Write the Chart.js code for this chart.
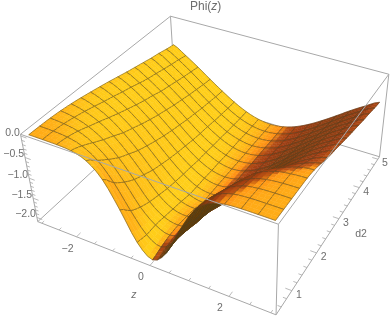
<!DOCTYPE html>
<html><head><meta charset="utf-8">
<style>html,body{margin:0;padding:0;background:#fff}canvas{display:block}</style>
<script src="https://cdn.jsdelivr.net/npm/chart.js"></script>
</head><body><canvas id="c" width="390" height="316"></canvas>
<script>
// ---- data ----
const zValues=[-3,-2.625,-2.25,-1.875,-1.5,-1.125,-0.75,-0.375,0,0.375,0.75,1.125,1.5,1.875,2.25,2.625,3];
const d2Values=[0.5,0.78,1.06,1.34,1.63,1.91,2.19,2.47,2.75,3.03,3.31,3.59,3.88,4.16,4.44,4.72,5];
const phiRows=[
[0,-.001,-.005,-.033,-.145,-.46,-1.06,-1.74,-2.05,-1.74,-1.06,-.46,-.145,-.033,-.005,-.001,0],
[-.002,-.009,-.038,-.13,-.35,-.76,-1.32,-1.80,-1.98,-1.70,-1.11,-.52,-.178,-.045,-.008,-.001,0],
[-.01,-.035,-.10,-.26,-.54,-.97,-1.47,-1.80,-1.93,-1.74,-1.24,-.66,-.275,-.089,-.022,-.004,-.001],
[-.029,-.079,-.19,-.39,-.71,-1.13,-1.57,-1.84,-1.92,-1.80,-1.36,-.81,-.39,-.155,-.05,-.013,-.003],
[-.059,-.136,-.28,-.51,-.84,-1.24,-1.64,-1.88,-1.94,-1.84,-1.45,-.95,-.52,-.24,-.094,-.031,-.008],
[-.098,-.20,-.37,-.63,-.96,-1.34,-1.70,-1.92,-1.98,-1.90,-1.61,-1.18,-.77,-.44,-.23,-.10,-.041],
[-.143,-.27,-.46,-.72,-1.05,-1.41,-1.74,-1.97,-2.05,-1.96,-1.71,-1.36,-.99,-.66,-.40,-.22,-.11],
[-.19,-.33,-.54,-.81,-1.13,-1.47,-1.77,-1.98,-2.05,-1.98,-1.77,-1.47,-1.13,-.81,-.54,-.33,-.19],
[-.24,-.40,-.62,-.89,-1.20,-1.52,-1.79,-1.98,-2.05,-1.98,-1.79,-1.52,-1.20,-.89,-.62,-.40,-.24],
[-.295,-.46,-.69,-.96,-1.26,-1.56,-1.82,-1.99,-2.05,-1.99,-1.82,-1.56,-1.26,-.96,-.69,-.46,-.295],
[-.35,-.53,-.75,-1.02,-1.31,-1.60,-1.83,-1.99,-2.05,-1.99,-1.83,-1.60,-1.31,-1.02,-.75,-.53,-.35],
[-.40,-.59,-.82,-1.08,-1.36,-1.63,-1.85,-2.00,-2.05,-2.00,-1.85,-1.63,-1.36,-1.08,-.82,-.59,-.40],
[-.45,-.64,-.87,-1.13,-1.40,-1.65,-1.86,-2.00,-2.05,-2.00,-1.86,-1.65,-1.40,-1.13,-.87,-.64,-.45],
[-.50,-.69,-.92,-1.18,-1.44,-1.68,-1.88,-2.00,-2.05,-2.00,-1.88,-1.68,-1.44,-1.18,-.92,-.69,-.50],
[-.54,-.74,-.97,-1.22,-1.47,-1.70,-1.89,-2.01,-2.05,-2.01,-1.89,-1.70,-1.47,-1.22,-.97,-.74,-.54],
[-.59,-.78,-1.01,-1.26,-1.50,-1.72,-1.90,-2.01,-2.05,-2.01,-1.90,-1.72,-1.50,-1.26,-1.01,-.78,-.59],
[-.63,-.83,-1.05,-1.29,-1.52,-1.73,-1.90,-2.01,-2.05,-2.01,-1.90,-1.73,-1.52,-1.29,-1.05,-.83,-.63]];
const zTicks=[-2,0,2];
const d2Ticks=[1,2,3,4,5];
const phiTicks=[0,-0.5,-1,-1.5,-2];
const zMinor=[-3,-2.5,-1.5,-1,-0.5,0.5,1,1.5,2.5,3];
const d2Minor=[0.6,0.8,1.2,1.4,1.6,1.8,2.2,2.4,2.6,2.8,3.2,3.4,3.6,3.8,4.2,4.4,4.6,4.8];
const phiMinor=[-0.1,-0.2,-0.3,-0.4,-0.6,-0.7,-0.8,-0.9,-1.1,-1.2,-1.3,-1.4,-1.6,-1.7,-1.8,-1.9];
const zRange=[-3.12,3.12], d2Range=[0.41,5.09], phiRange=[-2.11,0.04];
// ---- box calibration: unit-cube corner -> page position ----
const boxCorners=[[0,0,1,22,135],[1,0,1,280,224],[1,1,1,389,74],[0,1,1,168,16],
                  [0,0,0,36,221],[1,0,0,275,315],[1,1,0,379,157],[0,1,0,178,95]];
const GREY='#a8a8a8', TEXT='#6e6e6e';

function fitCamera(){
  const A=[],b=[];
  for(const [u,v,w,x,y] of boxCorners){
    A.push([u,v,w,1,0,0,0,0,-x*u,-x*v,-x*w]);b.push(x);
    A.push([0,0,0,0,u,v,w,1,-y*u,-y*v,-y*w]);b.push(y);
  }
  const n=11,M=[];
  for(let i=0;i<n;i++){M.push([]);for(let j=0;j<=n;j++){let s=0;for(let k=0;k<A.length;k++)s+=A[k][i]*(j<n?A[k][j]:b[k]);M[i].push(s);}}
  for(let i=0;i<n;i++){
    let p=i;for(let r=i+1;r<n;r++)if(Math.abs(M[r][i])>Math.abs(M[p][i]))p=r;
    [M[i],M[p]]=[M[p],M[i]];
    for(let r=0;r<n;r++)if(r!==i){const f=M[r][i]/M[i][i];for(let c=i;c<=n;c++)M[r][c]-=f*M[i][c];}
  }
  return M.map((r,i)=>r[n]/r[i]);
}
const P=fitCamera();
function cube(u,v,w){const d=P[8]*u+P[9]*v+P[10]*w+1;
  return {x:(P[0]*u+P[1]*v+P[2]*w+P[3])/d,y:(P[4]*u+P[5]*v+P[6]*w+P[7])/d};}
const U=z=>(z-zRange[0])/(zRange[1]-zRange[0]),
      V=d=>(d-d2Range[0])/(d2Range[1]-d2Range[0]),
      W=p=>(p-phiRange[0])/(phiRange[1]-phiRange[0]);
const project=(z,d,p)=>cube(U(z),V(d),W(p));

// Catmull-Rom evaluation used only to round the drawn sheet between the read values
function cr(a,b,c,d,t){return 0.5*(2*b+(c-a)*t+(2*a-5*b+4*c-d)*t*t+(3*b-a-3*c+d)*t*t*t);}
function sheetPhi(fi,fj){
  const N=zValues.length-1,M=d2Values.length-1;
  const i=Math.min(Math.floor(fi),N-1),j=Math.min(Math.floor(fj),M-1),s=fi-i,t=fj-j;
  const row=r=>{r=Math.max(0,Math.min(M,r));const R=phiRows[r],g=k=>R[Math.max(0,Math.min(N,k))];
    return cr(g(i-1),g(i),g(i+1),g(i+2),s);};
  return cr(row(j-1),row(j),row(j+1),row(j+2),t);
}
const norm=a=>{const l=Math.hypot(...a);return a.map(x=>x/l);};
const dot=(a,b)=>a[0]*b[0]+a[1]*b[1]+a[2]*b[2];
const camR=norm([2.4,1.3,0]),camV=norm([1.3,-2.4,2]),
      camU=[camV[1]*camR[2]-camV[2]*camR[1],camV[2]*camR[0]-camV[0]*camR[2],camV[0]*camR[1]-camV[1]*camR[0]];
const L1=norm([1.5,-0.5,2]),L2=norm([1.5,1.5,2]);
function shade(n){
  if(n[2]<0)n=n.map(x=>-x);
  const nv=[dot(n,camR),dot(n,camU),dot(n,camV)];
  const dR=Math.max(0,dot(nv,L1)),dG=Math.max(0,dot(nv,L2));
  const c=x=>Math.round(255*Math.min(1,x));
  const f=Math.min(1,.62+4*dR);
  return `rgb(${c(.36+2.2*dR+.6*dG)},${c(Math.max(.24,(.05+.76*dG)*f))},${c(.05+.05*dG)})`;
}
class SurfaceController extends Chart.ScatterController{
  draw(){
    const ctx=this.chart.ctx,sx=this.getScaleForId(this.getMeta().xAxisID),sy=this.getScaleForId(this.getMeta().yAxisID);
    const N=zValues.length-1,M=d2Values.length-1,S=3,q=[];
    const lerp=(arr,f)=>{const i=Math.min(Math.floor(f),arr.length-2);return arr[i]+(arr[i+1]-arr[i])*(f-i);};
    const pt=(a,b)=>{const fi=a/S,fj=b/S,z=lerp(zValues,fi),d=lerp(d2Values,fj),p=sheetPhi(fi,fj),
        s=project(z,d,p);
        return {w:[U(z),V(d),0.4*W(p)],px:sx.getPixelForValue(s.x),py:sy.getPixelForValue(s.y)};};
    const G=[];for(let a=0;a<=N*S;a++){G.push([]);for(let b=0;b<=M*S;b++)G[a].push(pt(a,b));}
    for(let a=0;a<N*S;a++)for(let b=0;b<M*S;b++){
      const A=G[a][b],B=G[a+1][b],C=G[a+1][b+1],D=G[a][b+1];
      const e1=[C.w[0]-A.w[0],C.w[1]-A.w[1],C.w[2]-A.w[2]],e2=[D.w[0]-B.w[0],D.w[1]-B.w[1],D.w[2]-B.w[2]];
      const n=norm([e1[1]*e2[2]-e1[2]*e2[1],e1[2]*e2[0]-e1[0]*e2[2],e1[0]*e2[1]-e1[1]*e2[0]]);
      const c=[(A.w[0]+C.w[0])/2,(A.w[1]+C.w[1])/2,(A.w[2]+C.w[2])/2];
      q.push({A,B,C,D,a,b,col:shade(n),depth:dot(c,camV)});
    }
    q.sort((x,y)=>x.depth-y.depth);
    ctx.save();ctx.lineJoin='round';
    for(const k of q){
      ctx.beginPath();ctx.moveTo(k.A.px,k.A.py);ctx.lineTo(k.B.px,k.B.py);ctx.lineTo(k.C.px,k.C.py);ctx.lineTo(k.D.px,k.D.py);ctx.closePath();
      ctx.fillStyle=k.col;ctx.strokeStyle=k.col;ctx.lineWidth=.5;ctx.fill();ctx.stroke();
      ctx.strokeStyle='rgba(80,65,35,.72)';ctx.lineWidth=.7;
      const seg=(p,r)=>{ctx.beginPath();ctx.moveTo(p.px,p.py);ctx.lineTo(r.px,r.py);ctx.stroke();};
      if(k.a%S===0)seg(k.A,k.D);
      if((k.a+1)%S===0)seg(k.B,k.C);
      if(k.b%S===0)seg(k.A,k.B);
      if((k.b+1)%S===0)seg(k.D,k.C);
    }
    ctx.restore();
  }
}
SurfaceController.id='surface';
SurfaceController.defaults=Chart.ScatterController.defaults;
Chart.register(SurfaceController);

const BREAK={x:NaN,y:NaN};
const edge=(a,b)=>[cube(...a),cube(...b),BREAK];
const backEdges=[...edge([0,0,1],[0,1,1]),...edge([0,1,1],[1,1,1]),...edge([0,1,1],[0,1,0]),
  ...edge([0,0,0],[0,1,0]),...edge([0,1,0],[1,1,0]),...edge([1,1,0],[1,1,1])];
const frontEdges=[...edge([0,0,1],[1,0,1]),...edge([1,0,1],[1,1,1]),...edge([1,0,1],[1,0,0]),
  ...edge([0,0,1],[0,0,0]),...edge([0,0,0],[1,0,0]),...edge([1,0,0],[1,1,0])];
const tick=(a,b)=>[project(...a),project(...b),BREAK];
const zSpan=zRange[1]-zRange[0],dSpan=d2Range[1]-d2Range[0];
const tickPts=[
  ...zTicks.flatMap(z=>tick([z,d2Range[0],phiRange[0]],[z,d2Range[0]+dSpan*.025,phiRange[0]])),
  ...zMinor.flatMap(z=>tick([z,d2Range[0],phiRange[0]],[z,d2Range[0]+dSpan*.014,phiRange[0]])),
  ...d2Ticks.flatMap(d=>tick([zRange[1],d,phiRange[0]],[zRange[1]-zSpan*.025,d,phiRange[0]])),
  ...d2Minor.flatMap(d=>tick([zRange[1],d,phiRange[0]],[zRange[1]-zSpan*.014,d,phiRange[0]])),
  ...phiTicks.flatMap(p=>tick([zRange[0],d2Range[0],p],[zRange[0]+zSpan*.025,d2Range[0],p])),
  ...phiMinor.flatMap(p=>tick([zRange[0],d2Range[0],p],[zRange[0]+zSpan*.014,d2Range[0],p]))];
const surfacePts=phiRows.flatMap((r,j)=>r.map((p,i)=>project(zValues[i],d2Values[j],p)));
const line=(data,order,width)=>({type:'scatter',data,order,showLine:true,spanGaps:false,pointRadius:0,borderColor:GREY,borderWidth:width,fill:false,clip:false});

const labels={
  id:'labels',
  afterDraw(ch){
    const ctx=ch.ctx,sx=ch.scales.x,sy=ch.scales.y;
    const put=(t,p,dx,dy,al)=>{ctx.textAlign=al||'center';ctx.fillText(t,sx.getPixelForValue(p.x)+dx,sy.getPixelForValue(p.y)+dy);};
    const fmt=v=>(v<0?'\u2212':'')+Math.abs(v).toFixed(1), fmti=v=>(v<0?'\u2212':'')+Math.abs(v);
    ctx.save();ctx.fillStyle=TEXT;ctx.textBaseline='middle';
    ctx.font='10.5px "Liberation Sans",Arial,sans-serif';
    phiTicks.forEach(v=>put(fmt(v),project(zRange[0],d2Range[0],v),-1,-3,'right'));
    zTicks.forEach(v=>put(fmti(v),project(v,d2Range[0],phiRange[0]),-9,12));
    d2Ticks.forEach(v=>put(String(v),project(zRange[1],v,phiRange[0]),7,4));
    put('d2',project(zRange[1],3.1,phiRange[0]),20,19);
    ctx.font='italic 10.5px "Liberation Sans",Arial,sans-serif';
    put('z',project(-0.4,d2Range[0],phiRange[0]),-1,35);
    ctx.font='12px "Liberation Sans",Arial,sans-serif';ctx.textAlign='left';
    const w=ctx.measureText('Phi(').width;ctx.fillText('Phi(',190,7);
    ctx.font='italic 12px "Liberation Sans",Arial,sans-serif';ctx.fillText('z',190+w,7);
    const w2=ctx.measureText('z').width;
    ctx.font='12px "Liberation Sans",Arial,sans-serif';ctx.fillText(')',190+w+w2,7);
    ctx.restore();
  }
};
new Chart(document.getElementById('c'),{
  type:'scatter',
  data:{datasets:[
    line(backEdges,3,1),
    {type:'surface',data:surfacePts,order:2,pointRadius:0,clip:false},
    line(frontEdges,1,1),
    line(tickPts,1,.8)
  ]},
  options:{responsive:false,animation:false,devicePixelRatio:1,
    layout:{padding:0},
    plugins:{legend:{display:false},tooltip:{enabled:false},title:{display:false}},
    scales:{x:{type:'linear',min:0,max:390,display:false},y:{type:'linear',min:0,max:316,reverse:true,display:false}}},
  plugins:[labels]
});
</script></body></html>
